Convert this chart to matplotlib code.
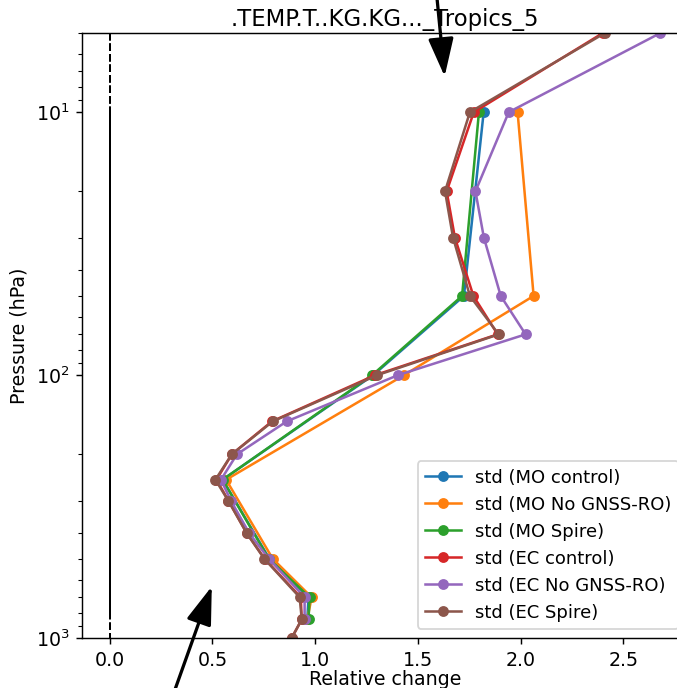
import numpy as np
import matplotlib
matplotlib.use("Agg")
import matplotlib.pyplot as plt

# Pressure levels (hPa) used by each centre
lev_mo = [10, 50, 100, 250, 500, 700, 850]
lev_ec = [5, 10, 20, 30, 50, 70, 100, 150, 200, 250, 300, 400, 500, 700, 850, 1000]
lev_ec_nognss = lev_ec[:-1]

# Relative change of std
mo_control = [1.82, 1.724, 1.283, 0.55, 0.778, 0.968, 0.962]
mo_nognss = [1.985, 2.063, 1.433, 0.567, 0.794, 0.983, 0.962]
mo_spire = [1.797, 1.715, 1.278, 0.55, 0.775, 0.973, 0.968]
ec_control = [2.40, 1.772, 1.64, 1.68, 1.77, 1.888, 1.293, 0.79, 0.595, 0.52, 0.578, 0.668, 0.755, 0.93, 0.935, 0.886]
ec_nognss = [2.68, 1.942, 1.78, 1.821, 1.903, 2.024, 1.404, 0.862, 0.62, 0.542, 0.59, 0.68, 0.775, 0.949, 0.949]
ec_spire = [2.41, 1.753, 1.632, 1.671, 1.753, 1.893, 1.303, 0.794, 0.595, 0.515, 0.577, 0.668, 0.753, 0.925, 0.935, 0.886]

series = [
    ("std (MO control)", lev_mo, mo_control),
    ("std (MO No GNSS-RO)", lev_mo, mo_nognss),
    ("std (MO Spire)", lev_mo, mo_spire),
    ("std (EC control)", lev_ec, ec_control),
    ("std (EC No GNSS-RO)", lev_ec_nognss, ec_nognss),
    ("std (EC Spire)", lev_ec, ec_spire),
]

plt.rcParams['font.size'] = 10.5
plt.rcParams['axes.titlesize'] = 12.6

dpi = 130
fig = plt.figure(figsize=(677 / dpi, 688 / dpi), dpi=dpi)
# axes runs a little past the right edge of the picture
ax = fig.add_axes([82 / 677, 50 / 688, 606 / 677, 605 / 688])

for label, lev, vals in series:
    ax.plot(vals, lev, marker='o', markersize=5, lw=1.4, label=label)
    ax.plot(np.zeros(len(lev)), lev, 'k--', lw=1.1)

ax.set_yscale('log')
ax.set_ylim(1000, 5)
ax.set_xlim(-0.134, 2.814)
ax.set_xticks([0.0, 0.5, 1.0, 1.5, 2.0, 2.5])
ax.set_xlabel('Relative change', labelpad=0.2)
ax.set_ylabel('Pressure (hPa)', labelpad=4)
ax.set_title('.TEMP.T..KG.KG..._Tropics_5', pad=4)
ax.legend(loc='lower right', fontsize=10)

# two arrows pointing into the plot
ax.annotate('', xy=(445, 608), xycoords='figure pixels',
            xytext=(436, 700), textcoords='figure pixels',
            arrowprops=dict(arrowstyle='-|>,head_length=0.9,head_width=0.3',
                            color='k', lw=1.8, mutation_scale=20),
            annotation_clip=False)
ax.annotate('', xy=(213, 105), xycoords='figure pixels',
            xytext=(172, -10), textcoords='figure pixels',
            arrowprops=dict(arrowstyle='-|>,head_length=0.9,head_width=0.3',
                            color='k', lw=1.8, mutation_scale=20),
            annotation_clip=False)

fig.savefig('out.png', dpi=dpi)
